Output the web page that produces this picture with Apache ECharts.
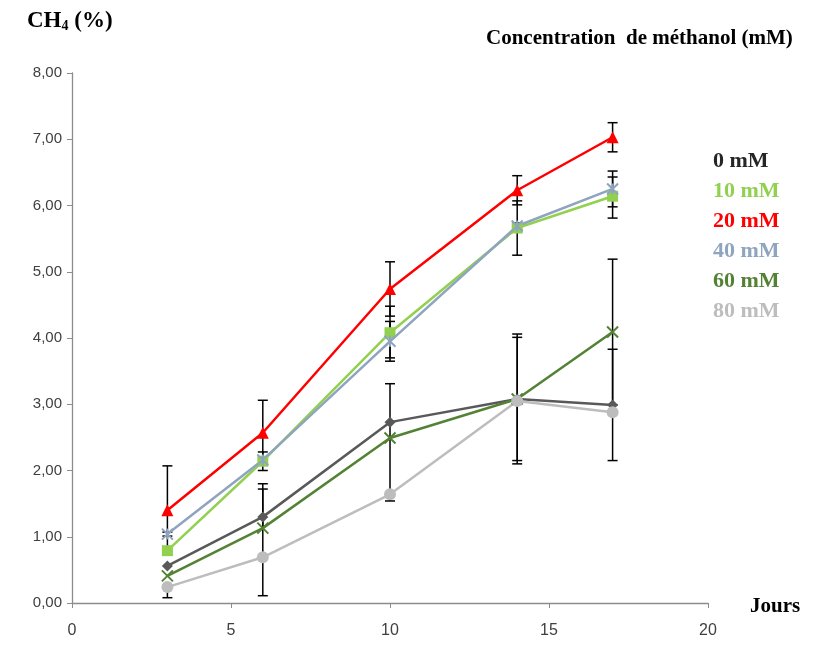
<!DOCTYPE html>
<html><head><meta charset="utf-8">
<script src="https://cdn.jsdelivr.net/npm/echarts@6/dist/echarts.min.js"></script>
<style>html,body{margin:0;padding:0;background:#fff}#c{width:817px;height:646px}</style>
</head><body><div id="c"></div>
<script>
const days = [3, 6, 10, 14, 17];
const seriesNames = ['0 mM', '10 mM', '20 mM', '40 mM', '60 mM', '80 mM'];
const v0  = [0.56, 1.30, 2.73, 3.08, 2.99];
const v10 = [0.79, 2.14, 4.08, 5.66, 6.14];
const v20 = [1.40, 2.57, 4.74, 6.23, 7.03];
const v40 = [1.04, 2.16, 3.95, 5.69, 6.25];
const v60 = [0.41, 1.13, 2.49, 3.08, 4.09];
const v80 = [0.24, 0.69, 1.64, 3.05, 2.88];
// error bars (upper / lower)
const up0  = [0.00, 0.50, 0.58, 0.98, 0.84];
const dn0  = [0.00, 1.19, 1.19, 0.98, 0.84];
const up10 = [0.00, 0.14, 0.40, 0.41, 0.29];
const dn10 = [0.00, 0.14, 0.38, 0.41, 0.33];
const up20 = [0.67, 0.49, 0.41, 0.22, 0.22];
const dn20 = [0.67, 0.49, 0.41, 0.22, 0.22];
const up40 = [0.03, 0.00, 0.30, 0.05, 0.27];
const dn40 = [0.03, 0.00, 0.30, 0.05, 0.27];
const up60 = [0.00, 0.59, 0.00, 0.93, 1.10];
const dn60 = [0.00, 0.00, 0.00, 0.93, 1.10];
const up80 = [0.00, 0.00, 0.00, 0.00, 0.00];
const dn80 = [0.16, 0.00, 0.00, 0.00, 0.00];
const xTicks = [0, 5, 10, 15, 20];
const yTicks = ['0,00','1,00','2,00','3,00','4,00','5,00','6,00','7,00','8,00'];

const values = [v0, v10, v20, v40, v60, v80];
const ups = [up0, up10, up20, up40, up60, up80];
const dns = [dn0, dn10, dn20, dn40, dn60, dn80];
const colors = ['#595959', '#92D050', '#FF0000', '#8EA4BF', '#548235', '#BDBDBD'];
const symbols = ['diamond', 'rect', 'triangle', 'path://M0,0L10,10M10,0L0,10M5,0L5,10', 'path://M0,0L10,10M10,0L0,10', 'circle'];
const symbolSizes = [11, 11, 12, 11, 11, 12];

const series = [];
values.forEach((vals, i) => {
  series.push({
    type: 'custom', name: seriesNames[i] + ' err', z: 1, silent: true,
    data: days.map((d, k) => [d, vals[k] - dns[i][k], vals[k] + ups[i][k], vals[k]]),
    renderItem: function (params, api) {
      const lo = api.coord([api.value(0), api.value(1)]);
      const hi = api.coord([api.value(0), api.value(2)]);
      const w = 5;
      const st = { stroke: '#000', lineWidth: 1.5 };
      const ch = [];
      if (api.value(1) !== api.value(2)) {
        ch.push({ type: 'line', shape: { x1: lo[0], y1: lo[1], x2: hi[0], y2: hi[1] }, style: st });
      }
      if (api.value(1) !== api.value(3)) ch.push({ type: 'line', shape: { x1: lo[0] - w, y1: lo[1], x2: lo[0] + w, y2: lo[1] }, style: st });
      if (api.value(2) !== api.value(3)) ch.push({ type: 'line', shape: { x1: hi[0] - w, y1: hi[1], x2: hi[0] + w, y2: hi[1] }, style: st });
      return { type: 'group', children: ch };
    }
  });
});
values.forEach((vals, i) => {
  const isPath = symbols[i].startsWith('path');
  series.push({
    type: 'line', name: seriesNames[i], z: 3,
    data: days.map((d, k) => [d, vals[k]]),
    symbol: symbols[i], symbolSize: symbolSizes[i],
    lineStyle: { color: colors[i], width: 2.5 },
    itemStyle: isPath ? { color: 'none', borderColor: colors[i], borderWidth: 2 } : { color: colors[i] },
    emphasis: { disabled: true }
  });
});

const chart = echarts.init(document.getElementById('c'), null, { renderer: 'canvas' });
chart.setOption({
  animation: false,
  backgroundColor: '#fff',
  grid: { left: 72, right: 109, top: 73, bottom: 43, containLabel: false },
  xAxis: {
    type: 'value', min: 0, max: 20, interval: 5,
    axisLine: { show: true, lineStyle: { color: '#8C8C8C', width: 1.3 } },
    axisTick: { show: true, inside: false, length: 5, lineStyle: { color: '#8C8C8C' } },
    splitLine: { show: false },
    axisLabel: { color: '#404040', fontSize: 16, fontFamily: 'Liberation Sans Narrow, Liberation Sans', margin: 20,
      formatter: v => String(xTicks[xTicks.indexOf(v)]) }
  },
  yAxis: {
    type: 'value', min: 0, max: 8, interval: 1,
    axisLine: { show: true, lineStyle: { color: '#8C8C8C', width: 1.3 } },
    axisTick: { show: true, length: 5, lineStyle: { color: '#8C8C8C' } },
    splitLine: { show: false },
    axisLabel: { color: '#404040', fontSize: 15, fontFamily: 'Liberation Sans Narrow, Liberation Sans', margin: 10,
      formatter: v => yTicks[Math.round(v)] }
  },
  legend: {
    orient: 'vertical', left: 712, top: 150, itemGap: 8, padding: 0,
    icon: 'none', itemWidth: 0, itemHeight: 22,
    selectedMode: false,
    textStyle: { fontFamily: 'Liberation Serif', fontWeight: 'bold', fontSize: 22, padding: [0,0,0,-4] },
    data: seriesNames.map((n, i) => ({ name: n, textStyle: { color: i === 0 ? '#262626' : colors[i] } }))
  },
  graphic: [
    { type: 'text', left: 27, top: 10, style: {
      text: '{a|CH}{s|4}{a| (%)}',
      rich: { a: { fontFamily: 'Liberation Serif', fontWeight: 'bold', fontSize: 23, fill: '#000' },
              s: { fontFamily: 'Liberation Serif', fontWeight: 'bold', fontSize: 14, fill: '#000', verticalAlign: 'bottom', padding: [9,0,0,0] } } } },
    { type: 'text', left: 486, top: 28, style: { text: 'Concentration  de méthanol (mM)',
      fontFamily: 'Liberation Serif', fontWeight: 'bold', fontSize: 21, fill: '#000' } },
    { type: 'text', left: 750, top: 596, style: { text: 'Jours',
      fontFamily: 'Liberation Serif', fontWeight: 'bold', fontSize: 21, fill: '#000' } }
  ],
  series: series
});
</script></body></html>
